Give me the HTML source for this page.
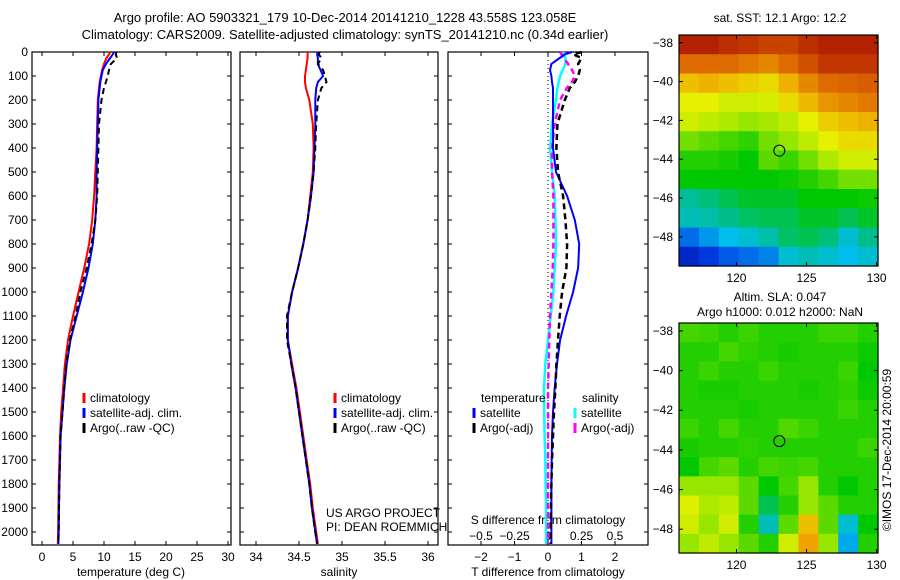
<!DOCTYPE html>
<html><head><meta charset="utf-8"><style>
body{margin:0;background:#fff;}
svg{display:block;font-family:"Liberation Sans",Arial,sans-serif;}
text{font-size:12px;fill:#000;}
</style></head><body>
<svg id="fig" width="900" height="580" viewBox="0 0 900 580">
<text x="345" y="22" text-anchor="middle" style="font-size:13px">Argo profile: AO 5903321_179 10-Dec-2014 20141210_1228 43.558S 123.058E</text>
<text x="345" y="39" text-anchor="middle" style="font-size:13px">Climatology: CARS2009. Satellite-adjusted climatology: synTS_20141210.nc (0.34d earlier)</text>
<g id="g"></g>
</svg>
<script>
// ---- data ----
const depths=[0,10,25,50,75,100,125,150,200,300,400,500,600,700,800,900,1000,1100,1200,1300,1400,1500,1600,1700,1800,1900,2000,2050];
const tempClim=[11.0,10.8,10.4,10.0,9.7,9.5,9.3,9.2,9.0,8.9,8.8,8.6,8.4,8.1,7.6,6.8,5.9,5.0,4.2,3.7,3.4,3.1,2.9,2.8,2.7,2.65,2.6,2.55];
const tempSat=[11.6,11.4,11.0,10.3,9.8,9.6,9.4,9.3,9.1,9.0,8.9,8.8,8.8,8.6,8.2,7.5,6.6,5.6,4.6,4.0,3.6,3.3,3.0,2.9,2.8,2.75,2.7,2.65];
const tempArgo=[12.0,11.9,12.1,11.1,10.8,10.6,10.3,10.0,9.6,9.2,9.1,9.0,8.9,8.6,8.0,7.2,6.2,5.4,4.5,3.9,3.6,3.3,3.0,2.9,2.8,2.75,2.7,2.65];
const salClim=[34.6,34.6,34.6,34.59,34.58,34.57,34.57,34.58,34.62,34.66,34.67,34.66,34.63,34.6,34.55,34.49,34.42,34.37,34.37,34.42,34.47,34.51,34.55,34.59,34.63,34.66,34.7,34.72];
const salSat=[34.72,34.71,34.72,34.72,34.75,34.78,34.72,34.7,34.69,34.69,34.68,34.67,34.64,34.6,34.55,34.49,34.42,34.37,34.37,34.41,34.46,34.5,34.54,34.58,34.62,34.65,34.69,34.71];
const salArgo=[34.74,34.73,34.76,34.72,34.78,34.8,34.82,34.76,34.72,34.7,34.69,34.67,34.64,34.6,34.55,34.49,34.42,34.36,34.36,34.41,34.46,34.5,34.54,34.58,34.62,34.65,34.69,34.71];
const dTsat=[0.72,0.5,0.35,0.1,0.06,0.1,0.12,0.15,0.15,0.15,0.15,0.24,0.57,0.8,0.93,0.9,0.75,0.54,0.36,0.27,0.2,0.15,0.12,0.11,0.1,0.1,0.1,0.1];
const dTargo=[1.0,0.75,1.0,0.9,0.95,0.9,0.8,0.65,0.5,0.28,0.25,0.3,0.45,0.52,0.57,0.55,0.42,0.35,0.3,0.25,0.22,0.18,0.15,0.12,0.1,0.09,0.08,0.08];
const dSsat=[0.11,0.12,0.13,0.13,0.11,0.09,0.08,0.07,0.06,0.03,0.015,0.03,0.05,0.055,0.06,0.05,0.04,0.02,0.0,-0.02,-0.03,-0.028,-0.025,-0.02,-0.018,-0.015,-0.015,-0.015];
const dSargo=[0.09,0.1,0.12,0.15,0.18,0.2,0.18,0.14,0.09,0.05,0.03,0.03,0.04,0.04,0.04,0.035,0.025,0.015,0.01,0.005,0.0,0.0,0.0,0.0,0.0,0.0,0.0,0.0];
const depthTicks=[0,100,200,300,400,500,600,700,800,900,1000,1100,1200,1300,1400,1500,1600,1700,1800,1900,2000];
const tTicks=[0,5,10,15,20,25,30];
const sTicks=[34,34.5,35,35.5,36];
const dTTicks=[-2,-1,0,1,2];
const dSTicks=[-0.5,-0.25,0,0.25,0.5];
const latTicks=[-38,-40,-42,-44,-46,-48];
const lonTicks=[120,125,130];
const sstGrid=[
[0.95,0.95,0.93,0.92,0.9,0.9,0.93,0.95,0.95,0.95],
[0.84,0.84,0.84,0.82,0.8,0.84,0.88,0.92,0.92,0.92],
[0.72,0.74,0.72,0.7,0.68,0.74,0.8,0.84,0.85,0.86],
[0.65,0.65,0.62,0.62,0.63,0.68,0.73,0.78,0.8,0.82],
[0.62,0.6,0.58,0.55,0.57,0.6,0.65,0.7,0.72,0.74],
[0.52,0.5,0.48,0.46,0.52,0.55,0.6,0.65,0.68,0.68],
[0.45,0.45,0.44,0.42,0.5,0.47,0.52,0.58,0.62,0.62],
[0.42,0.42,0.42,0.42,0.42,0.43,0.45,0.48,0.52,0.52],
[0.34,0.36,0.38,0.4,0.4,0.4,0.42,0.42,0.42,0.43],
[0.32,0.33,0.35,0.37,0.38,0.38,0.4,0.4,0.38,0.4],
[0.2,0.24,0.28,0.3,0.33,0.37,0.38,0.36,0.3,0.35],
[0.1,0.14,0.18,0.2,0.22,0.3,0.32,0.3,0.28,0.3]];
const slaGrid=[
[0.48,0.47,0.45,0.47,0.45,0.45,0.45,0.47,0.47,0.45],
[0.45,0.45,0.48,0.46,0.45,0.44,0.45,0.45,0.45,0.43],
[0.45,0.47,0.45,0.45,0.47,0.45,0.45,0.45,0.47,0.42],
[0.45,0.44,0.44,0.45,0.45,0.45,0.44,0.45,0.46,0.43],
[0.45,0.45,0.45,0.44,0.45,0.45,0.45,0.45,0.47,0.45],
[0.47,0.45,0.48,0.45,0.45,0.49,0.47,0.45,0.45,0.45],
[0.44,0.45,0.45,0.46,0.45,0.45,0.45,0.45,0.45,0.47],
[0.42,0.48,0.5,0.45,0.48,0.47,0.48,0.45,0.45,0.45],
[0.55,0.55,0.55,0.5,0.42,0.48,0.55,0.45,0.42,0.45],
[0.64,0.58,0.6,0.5,0.38,0.45,0.55,0.5,0.45,0.45],
[0.62,0.55,0.62,0.45,0.32,0.5,0.72,0.5,0.3,0.42],
[0.55,0.6,0.55,0.5,0.45,0.62,0.76,0.55,0.26,0.45]];

const NS='http://www.w3.org/2000/svg';
const G=document.getElementById('g');
function mk(tag,attrs,parent){const e=document.createElementNS(NS,tag);for(const k in attrs)e.setAttribute(k,attrs[k]);(parent||G).appendChild(e);return e;}
function txt(x,y,s,anchor,parent){const t=mk('text',{x:x,y:y,'text-anchor':anchor||'start'},parent);t.textContent=s;return t;}

const Y0=52,YPER=0.24;
const yD=d=>Y0+d*YPER;
const xT=t=>42+t*6.2;
const xS=s=>256+(s-34)*86;
const xDT=t=>548+t*33.5;
const xDS=s=>548+s*134;

const panels=[{x:32,w:199,name:'temperature-panel'},{x:240,w:198,name:'salinity-panel'},{x:448,w:200,name:'difference-panel'}];
const PB=545;
panels.forEach((p,i)=>{
  const r=mk('rect',{x:p.x,y:Y0,width:p.w,height:PB-Y0,fill:'none',stroke:'#000','stroke-width':1.2});
  
  
  depthTicks.forEach(d=>{
    mk('line',{x1:p.x,x2:p.x+4,y1:yD(d),y2:yD(d),stroke:'#000'});
    mk('line',{x1:p.x+p.w-4,x2:p.x+p.w,y1:yD(d),y2:yD(d),stroke:'#000'});
  });
});
depthTicks.forEach(d=>{const t=txt(28,yD(d)+4,String(d),'end');
  
  });

function xticks(vals,fx,labY,topTick){vals.forEach(v=>{const x=fx(v);
  mk('line',{x1:x,x2:x,y1:PB-4,y2:PB,stroke:'#000'});
  if(topTick)mk('line',{x1:x,x2:x,y1:Y0,y2:Y0+4,stroke:'#000'});
  const t=txt(x,labY,String(v).replace('-','\u2212'),'middle');
  
  });}
xticks(tTicks,xT,561,true);
xticks(sTicks,xS,561,true);
xticks(dTTicks,xDT,561,true);
dSTicks.forEach(v=>{const t=txt(xDS(v),540,String(v).replace('-','\u2212'),'middle');
  
  });

let t;
t=txt(131,576,'temperature (deg C)','middle');
t=txt(339,576,'salinity','middle');
t=txt(548,576,'T difference from climatology','middle');
t=txt(548,524,'S difference from climatology','middle');
t=txt(326,517,'US ARGO PROJECT');
t=txt(326,531,'PI: DEAN ROEMMICH');

mk('line',{x1:xDT(0),x2:xDT(0),y1:Y0,y2:PB,stroke:'#000','stroke-dasharray':'1,3'});

function line(vals,fx,color,dash,name,w){
  const pts=vals.map((v,i)=>fx(v).toFixed(1)+','+yD(depths[i]).toFixed(1)).join(' ');
  const e=mk('polyline',{points:pts,fill:'none',stroke:color,'stroke-width':w||2,'stroke-dasharray':dash||'none'});
  
  
}
line(tempClim,xT,'#f00',null,'temp-climatology-line');
line(tempSat,xT,'#00f',null,'temp-satellite-line');
line(tempArgo,xT,'#000','6,4','temp-argo-line');
line(salClim,xS,'#f00',null,'sal-climatology-line');
line(salSat,xS,'#00f',null,'sal-satellite-line');
line(salArgo,xS,'#000','6,4','sal-argo-line');
line(dSsat,xDS,'#0ff',null,'sdiff-satellite-line',2.5);
line(dSargo,xDS,'#f0f','6,4','sdiff-argo-line',2.5);
line(dTsat,xDT,'#00f',null,'tdiff-satellite-line');
line(dTargo,xDT,'#000','6,4','tdiff-argo-line',2.5);

function leg(x,y,color,label){
  mk('line',{x1:x,x2:x,y1:y-9,y2:y+1,stroke:color,'stroke-width':3});
  const tt=txt(x+6,y,label);
  
  
}
[[84,'climatology','#f00'],[84,'satellite-adj. clim.','#00f'],[84,'Argo(..raw -QC)','#000']].forEach((a,i)=>leg(a[0],402+i*15,a[2],a[1]));
[[335,'climatology','#f00'],[335,'satellite-adj. clim.','#00f'],[335,'Argo(..raw -QC)','#000']].forEach((a,i)=>leg(a[0],402+i*15,a[2],a[1]));
t=txt(481,402,'temperature');
t=txt(582,402,'salinity');
leg(474,417,'#00f','satellite');leg(474,432,'#000','Argo(-adj)');
leg(575,417,'#0ff','satellite');leg(575,432,'#f0f','Argo(-adj)');

const cstops=[[0,[0,0,140]],[0.15,[0,60,230]],[0.28,[0,190,235]],[0.35,[0,190,140]],[0.42,[0,200,0]],[0.55,[150,230,0]],[0.65,[230,240,0]],[0.75,[240,170,0]],[0.85,[220,100,0]],[1,[160,0,0]]];
function cmap(v){for(let i=1;i<cstops.length;i++){if(v<=cstops[i][0]){const a=cstops[i-1],b=cstops[i],f=(v-a[0])/(b[0]-a[0]);
  return 'rgb('+a[1].map((c,k)=>Math.round(c+(b[1][k]-c)*f)).join(',')+')';}}return 'rgb(160,0,0)';}

function map(top,bottom,grid,name){
  const L=679,R=878,lon0=115.9,lon1=130.1;
  const lat0=-37.6,latPer=(bottom-top)/((top===35)?11.9:11.6);
  const yL=la=>top+(lat0-la)*latPer;
  const xL=lo=>L+(lo-lon0)*(R-L)/(lon1-lon0);
  const rows=grid.length,cols=grid[0].length,cw=(R-L)/cols,ch=(bottom-top)/rows;
  grid.forEach((row,r)=>row.forEach((v,c)=>{
    const cell=mk('rect',{x:L+c*cw,y:top+r*ch,width:cw+0.6,height:ch+0.6,fill:cmap(v)});
    
    
  }));
  const fr=mk('rect',{x:L,y:top,width:R-L,height:bottom-top,fill:'none',stroke:'#000','stroke-width':1.2});
  
  
  latTicks.forEach(la=>{const y=yL(la);mk('line',{x1:L,x2:L+4,y1:y,y2:y,stroke:'#000'});mk('line',{x1:R-4,x2:R,y1:y,y2:y,stroke:'#000'});
    const tt=txt(L-6,y+4,String(la).replace('-','\u2212'),'end');
    
    });
  lonTicks.forEach(lo=>{const x=xL(lo);mk('line',{x1:x,x2:x,y1:bottom-4,y2:bottom,stroke:'#000'});mk('line',{x1:x,x2:x,y1:top,y2:top+4,stroke:'#000'});
    const tt=txt(x,bottom+16,String(lo),'middle');
    
    });
  const c=mk('circle',{cx:xL(123.058),cy:yL(-43.558),r:5.5,fill:'none',stroke:'#000'});
  
  
}
map(35,266,sstGrid,'sst-map');
map(323,553,slaGrid,'sla-map');
t=txt(780,22,'sat. SST: 12.1 Argo: 12.2','middle');
t=txt(780,301,'Altim. SLA: 0.047','middle');
t=txt(780,316,'Argo h1000: 0.012 h2000: NaN','middle');
t=txt(0,0,'\u00a9IMOS 17-Dec-2014 20:00:59','middle');t.setAttribute('transform','translate(891,450) rotate(-90)');

</script>
</body></html>
